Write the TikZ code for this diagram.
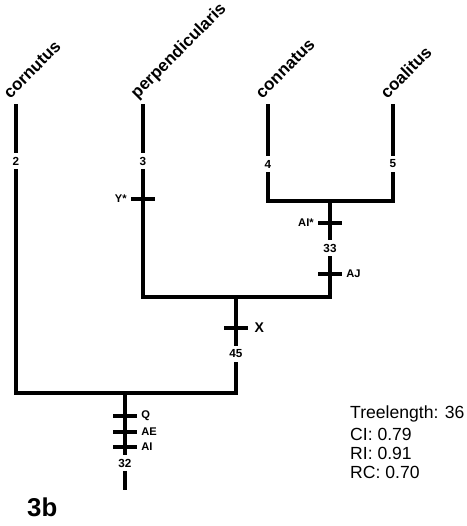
\documentclass[tikz,border=0pt]{standalone}
\usepackage{fontspec}
\setmainfont{Liberation Sans}
\usetikzlibrary{positioning}

\begin{document}
\begin{tikzpicture}[
    x=0.03cm, y=-0.03cm,
    node distance=2pt,
    branch/.style={line width=3pt, line join=miter},
    taxon/.style={font=\fontsize{14.5}{16}\selectfont\bfseries, rotate=45,
                  anchor=base west, inner sep=0pt},
    num/.style={font=\fontsize{10}{11}\selectfont\bfseries, fill=white,
                inner xsep=1pt, inner ysep=3pt},
    tick/.style={fill=black, minimum width=0.74cm, minimum height=0.12cm,
                 inner sep=0pt},
    chr/.style={font=\fontsize{9.5}{11}\selectfont\bfseries, inner sep=1pt},
    stat/.style={font=\fontsize{15}{17}\selectfont, anchor=west, inner sep=0pt},
]
\useasboundingbox (0,0) rectangle (466,526);

% ---------------- leaves ----------------
\coordinate (cornutus) at (16,104);
\coordinate (perp)     at (143,104);
\coordinate (connatus) at (268,104);
\coordinate (coalitus) at (393,104);

\node[taxon] (tCor)  at ([xshift=-5pt,yshift=4pt]cornutus) {cornutus};
\node[taxon] (tPerp) at ([xshift=-5pt,yshift=4pt]perp)     {perpendicularis};
\node[taxon] (tConn) at ([xshift=-5pt,yshift=4pt]connatus) {connatus};
\node[taxon] (tCoal) at ([xshift=-5pt,yshift=4pt]coalitus) {coalitus};

% ---------------- internal nodes ----------------
\coordinate (n1)   at (330,201);
\coordinate (n2)   at (236,297);
\coordinate (r)    at (125,393);
\coordinate (rend) at (125,490);

% branch numbers
\node[num] (l2)  at (16,161)  {2};
\node[num] (l3)  at (143,161) {3};
\node[num] (l4)  at (268,164) {4};
\node[num] (l5)  at (393,164) {5};
\node[num] (l33) at (330,248) {33};
\node[num] (l45) at (236,354) {45};
\node[num] (l32) at (125,463) {32};

% ---------------- branches ----------------
\draw[branch] (cornutus) -- (l2);
\draw[branch] (perp) -- (l3);
\draw[branch] (connatus) -- (l4);
\draw[branch] (coalitus) -- (l5);

\draw[branch] (l4) |- (n1) -| (l5);
\draw[branch] (n1) -- (l33);
\draw[branch] (l3) |- (n2) -| (l33);
\draw[branch] (n2) -- (l45);
\draw[branch] (l2) |- (r) -| (l45);
\draw[branch] (r) -- (l32);
\draw[branch] (l32) -- (rend);

% ---------------- characters ----------------
\node[tick] (kY)  at (143,199) {};
\node[chr, left=of kY] {Y*};

\node[tick] (kAIs) at (330,223) {};
\node[chr, left=of kAIs] {AI*};

\node[tick] (kAJ) at (330,274) {};
\node[chr, right=of kAJ] {AJ};

\node[tick] (kX) at (236,328) {};
\node[chr, right=4pt of kX, font=\fontsize{12}{13}\selectfont\bfseries] {X};

\node[tick] (kQ)  at (125,416) {};
\node[chr, right=of kQ] {Q};
\node[tick] (kAE) at (125,432) {};
\node[chr, right=of kAE] {AE};
\node[tick] (kAI) at (125,447) {};
\node[chr, right=of kAI] {AI};

% ---------------- statistics ----------------
\node[stat] (tl) at (350,414) {Treelength: 36};
\node[stat, below=5pt of tl.south west, anchor=north west] (ci) {CI: 0.79};
\node[stat, below=5pt of ci.south west, anchor=north west] (ri) {RI: 0.91};
\node[stat, below=5pt of ri.south west, anchor=north west] (rc) {RC: 0.70};

\node[font=\fontsize{22}{24}\selectfont\bfseries, anchor=west, inner sep=0pt]
    (fig) at (27,507) {3b};

\end{tikzpicture}
\end{document}
